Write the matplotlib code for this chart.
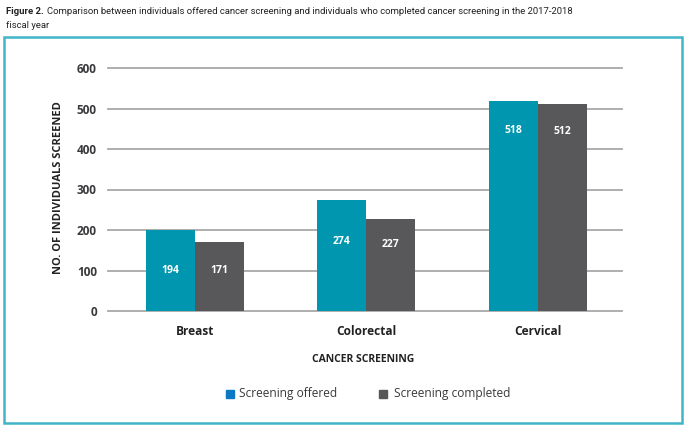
import matplotlib
matplotlib.use("Agg")
import matplotlib.pyplot as plt
from matplotlib.patches import Rectangle
import numpy as np

categories = ["Breast", "Colorectal", "Cervical"]
offered = [199, 274, 518]
completed = [171, 227, 512]
offered_labels = ["194", "274", "518"]
completed_labels = ["171", "227", "512"]
yticks = [0, 100, 200, 300, 400, 500, 600]
series_names = ["Screening offered", "Screening completed"]

teal = "#0096b0"
gray = "#58585a"
legend_blue = "#0a78c2"
text_col = "#3a3a3c"

plt.rcParams['font.family'] = ['Open Sans', 'DejaVu Sans']

fig = plt.figure(figsize=(6.84, 4.26), dpi=100)
W, H = 684, 426

# border
fig.patches.append(Rectangle((4/W, 3/H), 678/W, (H-37-3)/H, transform=fig.transFigure,
                             fill=False, edgecolor="#40b4c8", lw=1.8))

title_font = ['Roboto', 'DejaVu Sans']
t1 = fig.text(6/W, 1-11/H, "Figure 2.", fontsize=6.8, fontweight='bold', color="#222222",
              family=title_font, va='center', ha='left')
fig.canvas.draw()
bb = t1.get_window_extent()
fig.text((bb.x1 + 3)/W, 1-11/H,
         "Comparison between individuals offered cancer screening and individuals who completed cancer screening in the 2017-2018",
         fontsize=6.8, color="#222222", family=title_font, va='center', ha='left')
fig.text(6/W, 1-25/H, "fiscal year", fontsize=6.8, color="#222222",
         family=title_font, va='center', ha='left')

ax = fig.add_axes([108/W, 1-311/H, (622-108)/W, (311-68)/H])
x = np.arange(len(categories))
bw = 0.286
ax.bar(x - bw/2, offered, bw, color=teal, zorder=3)
ax.bar(x + bw/2, completed, bw, color=gray, zorder=3)

offs1 = [99, 102, 72]
offs2 = [70, 62, 70]
for i in range(len(categories)):
    ax.text(x[i] - bw/2, offered[i] - offs1[i], offered_labels[i], ha='center', va='center',
            color='white', fontsize=7.5, fontweight='bold', zorder=4)
    ax.text(x[i] + bw/2, completed[i] - offs2[i], completed_labels[i], ha='center', va='center',
            color='white', fontsize=7.5, fontweight='bold', zorder=4)

ax.set_xlim(-0.505, 2.49)
ax.set_ylim(0, 600)
ax.set_yticks(yticks)
ax.yaxis.grid(True, color="#a8a8a8", lw=1.3, zorder=0)
for g in ax.get_ygridlines():
    g.set_clip_on(False)
for s in ax.spines.values():
    s.set_visible(False)
ax.tick_params(axis='both', length=0, colors=text_col)
ax.tick_params(axis='y', pad=8, labelsize=8.5)
ax.tick_params(axis='x', pad=10)
for lab in ax.get_yticklabels():
    lab.set_fontweight('bold')
ax.set_xticks(x)
ax.set_xticklabels(categories, fontsize=8.6, fontweight='bold', color="#222222")

fig.text(363/W, 1-359/H, "CANCER SCREENING", fontsize=7.5, fontweight='bold',
         color="#222222", ha='center', va='center')
fig.text(59/W, 1-188/H, "NO. OF INDIVIDUALS SCREENED", fontsize=8.0, fontweight='bold',
         color="#222222", ha='center', va='center', rotation=90)

# legend
fig.patches.append(Rectangle((226/W, 1-398/H), 8/W, 8/H, transform=fig.transFigure,
                             color=legend_blue))
fig.text(239/W, 1-393/H, series_names[0], fontsize=8.6, color=text_col, va='center', ha='left')
fig.patches.append(Rectangle((379/W, 1-398/H), 8/W, 8/H, transform=fig.transFigure,
                             color=gray))
fig.text(394/W, 1-393/H, series_names[1], fontsize=8.6, color=text_col, va='center', ha='left')

fig.savefig("out.png", dpi=100)
